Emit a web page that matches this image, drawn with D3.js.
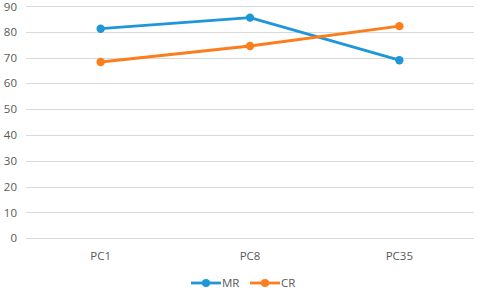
<!DOCTYPE html>
<html>
<head>
<meta charset="utf-8">
<script src="https://cdn.jsdelivr.net/npm/d3@7"></script>
<style>
  body { margin: 0; background: #fff; }
  text { font-family: "Open Sans", sans-serif; font-size: 11.5px; fill: #595959; }
</style>
</head>
<body>
<div id="chart"></div>
<script>
// chart data
var categories = ["PC1", "PC8", "PC35"];
var mrValues = [81.2, 85.5, 69.0];
var crValues = [68.3, 74.5, 82.2];
var yTicks = [0, 10, 20, 30, 40, 50, 60, 70, 80, 90];
var seriesNames = ["MR", "CR"];

var colors = { "MR": "#1f96d8", "CR": "#fb7d1c" };

var width = 477, height = 292;
var margin = { top: 6, right: 3, bottom: 54, left: 26 };

var svg = d3.select("#chart").append("svg")
    .attr("width", width)
    .attr("height", height);

var x = d3.scaleBand()
    .domain(categories)
    .range([margin.left, width - margin.right]);

var y = d3.scaleLinear()
    .domain([0, 90])
    .range([height - margin.bottom + 0.3, margin.top]);

// gridlines
svg.append("g")
    .selectAll("line")
    .data(yTicks)
    .enter().append("line")
    .attr("x1", margin.left)
    .attr("x2", width - margin.right)
    .attr("y1", function (d) { return Math.round(y(d)) + 0.5; })
    .attr("y2", function (d) { return Math.round(y(d)) + 0.5; })
    .attr("stroke", "#d9d9d9")
    .attr("stroke-width", 1);

// y axis labels
svg.append("g")
    .selectAll("text")
    .data(yTicks)
    .enter().append("text")
    .attr("x", 17)
    .attr("y", function (d) { return Math.max(y(d), 7); })
    .attr("dy", "0.35em")
    .attr("text-anchor", "end")
    .text(function (d) { return d; });

// x axis labels
svg.append("g")
    .selectAll("text")
    .data(categories)
    .enter().append("text")
    .attr("x", function (d) { return x(d) + x.bandwidth() / 2; })
    .attr("y", 256)
    .attr("dy", "0.35em")
    .attr("text-anchor", "middle")
    .text(function (d) { return d; });

var series = [
    { name: "MR", values: mrValues },
    { name: "CR", values: crValues }
];

var line = d3.line()
    .x(function (d, i) { return x(categories[i]) + x.bandwidth() / 2; })
    .y(function (d) { return y(d); });

series.forEach(function (s) {
    svg.append("path")
        .datum(s.values)
        .attr("fill", "none")
        .attr("stroke", colors[s.name])
        .attr("stroke-width", 2.8)
        .attr("stroke-linejoin", "round")
        .attr("d", line);

    svg.append("g")
        .selectAll("circle")
        .data(s.values)
        .enter().append("circle")
        .attr("cx", function (d, i) { return x(categories[i]) + x.bandwidth() / 2; })
        .attr("cy", function (d) { return y(d); })
        .attr("r", 4.2)
        .attr("fill", colors[s.name]);
});

// legend
var legendPos = { "MR": 191, "CR": 250 };
var legend = svg.append("g")
    .selectAll("g")
    .data(seriesNames)
    .enter().append("g")
    .attr("transform", function (d) { return "translate(" + legendPos[d] + ",283)"; });

legend.append("line")
    .attr("x1", 0).attr("x2", 30)
    .attr("stroke", function (d) { return colors[d]; })
    .attr("stroke-width", 2.8);

legend.append("circle")
    .attr("cx", 15)
    .attr("r", 4)
    .attr("fill", function (d) { return colors[d]; });

legend.append("text")
    .attr("x", 31)
    .attr("dy", "0.35em")
    .text(function (d) { return d; });
</script>
</body>
</html>
